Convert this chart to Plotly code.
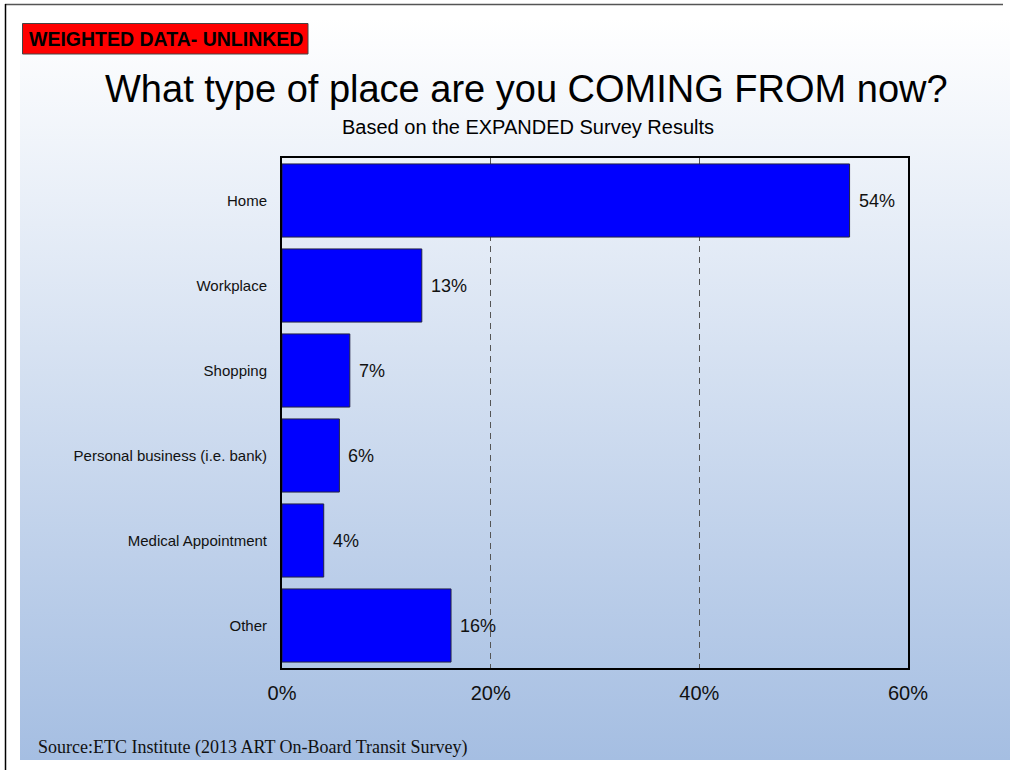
import base64
import plotly.graph_objects as go

# Survey responses: origin of the current trip
categories = ["Home", "Workplace", "Shopping", "Personal business (i.e. bank)",
              "Medical Appointment", "Other"]
shares = [54.4, 13.4, 6.5, 5.5, 4.0, 16.2]
tick_vals = [0, 20, 40, 60]
tick_text = ["0%", "20%", "40%", "60%"]

W, H = 1013, 770
L, R, T, B = 282, 908, 158, 668  # plot area in pixels

SANS = "Liberation Sans, Arial, sans-serif"
SERIF = "Liberation Serif, Times New Roman, serif"


def px(x):
    return (x - L) / (R - L)


def py(y):
    return (B - y) / (B - T)


fig = go.Figure()

fig.add_trace(go.Bar(
    x=shares,
    y=categories,
    orientation="h",
    width=0.86,
    marker=dict(color="#0000FF", line=dict(color="#222244", width=1)),
    hoverinfo="skip",
))

# value labels to the right of each bar
annotations = []
for cat, v in zip(categories, shares):
    annotations.append(dict(
        x=v, y=cat, xref="x", yref="y",
        text=f"{v:.0f}%" if v % 1 != 0.5 else f"{int(v) + 1}%",
        showarrow=False, xanchor="left", xshift=7,
        font=dict(family=SANS, size=18, color="#111111"),
    ))

# headings and notes
annotations += [
    dict(x=px(526), y=py(89), xref="paper", yref="paper",
         text="What type of place are you COMING FROM now?",
         showarrow=False, xanchor="center", yanchor="middle",
         font=dict(family=SANS, size=38, color="#000000")),
    dict(x=px(528), y=py(127), xref="paper", yref="paper",
         text="Based on the EXPANDED Survey Results",
         showarrow=False, xanchor="center", yanchor="middle",
         font=dict(family=SANS, size=20, color="#000000")),
    dict(x=px(36), y=py(747), xref="paper", yref="paper",
         text="Source:ETC Institute (2013 ART On-Board Transit Survey)",
         showarrow=False, xanchor="left", yanchor="middle",
         font=dict(family=SERIF, size=18, color="#111111")),
    dict(x=px(166), y=py(39), xref="paper", yref="paper",
         text="<b>WEIGHTED DATA- UNLINKED</b>",
         showarrow=False, xanchor="center", yanchor="middle",
         font=dict(family=SANS, size=19.5, color="#000000")),
]

# vertical background gradient for the slide
svg = (
    '<svg xmlns="http://www.w3.org/2000/svg" width="100" height="100" '
    'preserveAspectRatio="none">'
    '<defs><linearGradient id="g" x1="0" y1="0" x2="0" y2="1">'
    '<stop offset="0" stop-color="#ffffff"/>'
    '<stop offset="1" stop-color="#a5bee2"/>'
    '</linearGradient></defs>'
    '<rect width="100" height="100" fill="url(#g)"/></svg>'
)
src = "data:image/svg+xml;base64," + base64.b64encode(svg.encode()).decode()

images = [dict(
    source=src, xref="paper", yref="paper",
    x=px(20), y=py(18), sizex=px(1010) - px(20), sizey=py(18) - py(760),
    xanchor="left", yanchor="top", sizing="stretch", layer="below",
)]

shapes = [
    # slide frame
    dict(type="line", xref="paper", yref="paper",
         x0=px(5), x1=px(1003), y0=py(4.5), y1=py(4.5),
         line=dict(color="#555555", width=1.5)),
    dict(type="line", xref="paper", yref="paper",
         x0=px(5.5), x1=px(5.5), y0=py(4), y1=py(770),
         line=dict(color="#000000", width=1.5)),
    # red badge
    dict(type="rect", xref="paper", yref="paper",
         x0=px(22.5), x1=px(308), y0=py(23.5), y1=py(54),
         fillcolor="#FF0000", line=dict(color="#444444", width=1)),
]

fig.update_layout(
    width=W, height=H,
    margin=dict(l=L, r=W - R, t=T, b=H - B, pad=0),
    paper_bgcolor="#ffffff",
    plot_bgcolor="#ffffff",
    showlegend=False,
    bargap=0.14,
    annotations=annotations,
    images=images,
    shapes=shapes,
    xaxis=dict(
        range=[0, 60], tickvals=tick_vals, ticktext=tick_text,
        showgrid=True, gridcolor="#555555", griddash="6px,5px", gridwidth=1,
        zeroline=False, showline=True, linecolor="#000000", linewidth=2,
        mirror=True, ticks="", ticklabelstandoff=6,
        tickfont=dict(family=SANS, size=20, color="#111111"),
        fixedrange=True,
    ),
    yaxis=dict(
        autorange="reversed", showgrid=False, zeroline=False,
        showline=True, linecolor="#000000", linewidth=2, mirror=True,
        ticks="", ticklabelstandoff=10,
        tickfont=dict(family=SANS, size=15, color="#111111"),
        fixedrange=True,
    ),
)

fig.write_html("out.html")
